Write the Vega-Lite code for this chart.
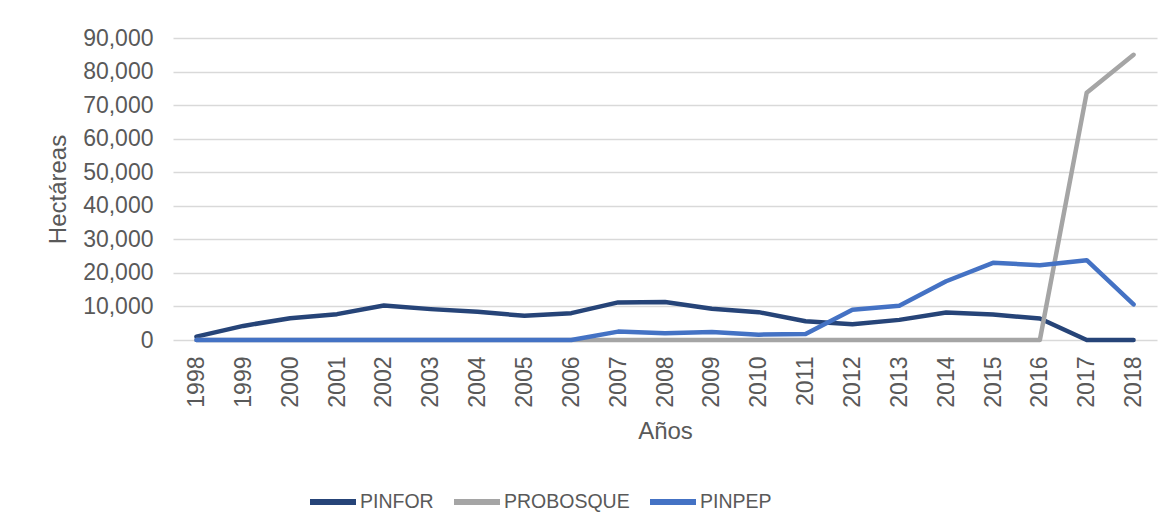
{
  "$schema": "https://vega.github.io/schema/vega-lite/v6.json",
  "width": 984,
  "height": 302,
  "autosize": {"type": "none"},
  "padding": {"left": 173, "top": 38, "right": 15, "bottom": 191},
  "background": "white",
  "config": {
    "view": {"stroke": null},
    "font": "Liberation Sans",
    "axis": {"labelFont": "Liberation Sans", "titleFont": "Liberation Sans", "labelColor": "#595959", "titleColor": "#595959", "titleFontWeight": "normal"},
    "legend": {"labelFont": "Liberation Sans", "labelColor": "#595959"}
  },
  "data": {
    "values": [
      {"Año": "1998", "Serie": "PINFOR", "Hectareas": 1000},
      {"Año": "1999", "Serie": "PINFOR", "Hectareas": 4200},
      {"Año": "2000", "Serie": "PINFOR", "Hectareas": 6500},
      {"Año": "2001", "Serie": "PINFOR", "Hectareas": 7700},
      {"Año": "2002", "Serie": "PINFOR", "Hectareas": 10300},
      {"Año": "2003", "Serie": "PINFOR", "Hectareas": 9200},
      {"Año": "2004", "Serie": "PINFOR", "Hectareas": 8400},
      {"Año": "2005", "Serie": "PINFOR", "Hectareas": 7200},
      {"Año": "2006", "Serie": "PINFOR", "Hectareas": 8000},
      {"Año": "2007", "Serie": "PINFOR", "Hectareas": 11200},
      {"Año": "2008", "Serie": "PINFOR", "Hectareas": 11300},
      {"Año": "2009", "Serie": "PINFOR", "Hectareas": 9300},
      {"Año": "2010", "Serie": "PINFOR", "Hectareas": 8300},
      {"Año": "2011", "Serie": "PINFOR", "Hectareas": 5600},
      {"Año": "2012", "Serie": "PINFOR", "Hectareas": 4700},
      {"Año": "2013", "Serie": "PINFOR", "Hectareas": 6000},
      {"Año": "2014", "Serie": "PINFOR", "Hectareas": 8200},
      {"Año": "2015", "Serie": "PINFOR", "Hectareas": 7600},
      {"Año": "2016", "Serie": "PINFOR", "Hectareas": 6400},
      {"Año": "2017", "Serie": "PINFOR", "Hectareas": 0},
      {"Año": "2018", "Serie": "PINFOR", "Hectareas": 0},
      {"Año": "1998", "Serie": "PROBOSQUE", "Hectareas": 0},
      {"Año": "1999", "Serie": "PROBOSQUE", "Hectareas": 0},
      {"Año": "2000", "Serie": "PROBOSQUE", "Hectareas": 0},
      {"Año": "2001", "Serie": "PROBOSQUE", "Hectareas": 0},
      {"Año": "2002", "Serie": "PROBOSQUE", "Hectareas": 0},
      {"Año": "2003", "Serie": "PROBOSQUE", "Hectareas": 0},
      {"Año": "2004", "Serie": "PROBOSQUE", "Hectareas": 0},
      {"Año": "2005", "Serie": "PROBOSQUE", "Hectareas": 0},
      {"Año": "2006", "Serie": "PROBOSQUE", "Hectareas": 0},
      {"Año": "2007", "Serie": "PROBOSQUE", "Hectareas": 0},
      {"Año": "2008", "Serie": "PROBOSQUE", "Hectareas": 0},
      {"Año": "2009", "Serie": "PROBOSQUE", "Hectareas": 0},
      {"Año": "2010", "Serie": "PROBOSQUE", "Hectareas": 0},
      {"Año": "2011", "Serie": "PROBOSQUE", "Hectareas": 0},
      {"Año": "2012", "Serie": "PROBOSQUE", "Hectareas": 0},
      {"Año": "2013", "Serie": "PROBOSQUE", "Hectareas": 0},
      {"Año": "2014", "Serie": "PROBOSQUE", "Hectareas": 0},
      {"Año": "2015", "Serie": "PROBOSQUE", "Hectareas": 0},
      {"Año": "2016", "Serie": "PROBOSQUE", "Hectareas": 0},
      {"Año": "2017", "Serie": "PROBOSQUE", "Hectareas": 73700},
      {"Año": "2018", "Serie": "PROBOSQUE", "Hectareas": 85000},
      {"Año": "1998", "Serie": "PINPEP", "Hectareas": 0},
      {"Año": "1999", "Serie": "PINPEP", "Hectareas": 0},
      {"Año": "2000", "Serie": "PINPEP", "Hectareas": 0},
      {"Año": "2001", "Serie": "PINPEP", "Hectareas": 0},
      {"Año": "2002", "Serie": "PINPEP", "Hectareas": 0},
      {"Año": "2003", "Serie": "PINPEP", "Hectareas": 0},
      {"Año": "2004", "Serie": "PINPEP", "Hectareas": 0},
      {"Año": "2005", "Serie": "PINPEP", "Hectareas": 0},
      {"Año": "2006", "Serie": "PINPEP", "Hectareas": 0},
      {"Año": "2007", "Serie": "PINPEP", "Hectareas": 2500},
      {"Año": "2008", "Serie": "PINPEP", "Hectareas": 2000},
      {"Año": "2009", "Serie": "PINPEP", "Hectareas": 2400},
      {"Año": "2010", "Serie": "PINPEP", "Hectareas": 1600},
      {"Año": "2011", "Serie": "PINPEP", "Hectareas": 1800},
      {"Año": "2012", "Serie": "PINPEP", "Hectareas": 9000},
      {"Año": "2013", "Serie": "PINPEP", "Hectareas": 10200},
      {"Año": "2014", "Serie": "PINPEP", "Hectareas": 17500},
      {"Año": "2015", "Serie": "PINPEP", "Hectareas": 23000},
      {"Año": "2016", "Serie": "PINPEP", "Hectareas": 22300},
      {"Año": "2017", "Serie": "PINPEP", "Hectareas": 23800},
      {"Año": "2018", "Serie": "PINPEP", "Hectareas": 10600}
    ]
  },
  "mark": {"type": "line", "strokeWidth": 4.5, "strokeCap": "round", "strokeJoin": "round"},
  "encoding": {
    "x": {
      "field": "Año",
      "type": "ordinal",
      "scale": {"type": "point", "padding": 0.5},
      "axis": {
        "title": "Años",
        "titleFontSize": 24,
        "titlePadding": 12,
        "labelAngle": -90,
        "labelFontSize": 23,
        "labelPadding": 16,
        "ticks": false,
        "tickSize": 0,
        "domain": false,
        "grid": false
      }
    },
    "y": {
      "field": "Hectareas",
      "type": "quantitative",
      "scale": {"domain": [0, 90000], "nice": false},
      "axis": {
        "title": "Hectáreas",
        "titleFontSize": 24,
        "titlePadding": 12,
        "values": [0, 10000, 20000, 30000, 40000, 50000, 60000, 70000, 80000, 90000],
        "format": ",d",
        "labelFontSize": 23,
        "labelPadding": 20,
        "ticks": false,
        "tickSize": 0,
        "domain": false,
        "grid": true,
        "gridColor": "#D9D9D9",
        "gridWidth": 1.3
      }
    },
    "color": {
      "field": "Serie",
      "type": "nominal",
      "sort": ["PINFOR", "PROBOSQUE", "PINPEP"],
      "scale": {"domain": ["PINFOR", "PROBOSQUE", "PINPEP"], "range": ["#264478", "#A5A5A5", "#4472C4"]},
      "legend": {
        "title": null,
        "orient": "none",
        "direction": "horizontal",
        "legendX": 134,
        "legendY": 438,
        "symbolType": "stroke",
        "symbolSize": 2116,
        "symbolStrokeWidth": 6,
        "labelFontSize": 19.5,
        "labelOffset": 1,
        "columnPadding": 8
      }
    }
  }
}
